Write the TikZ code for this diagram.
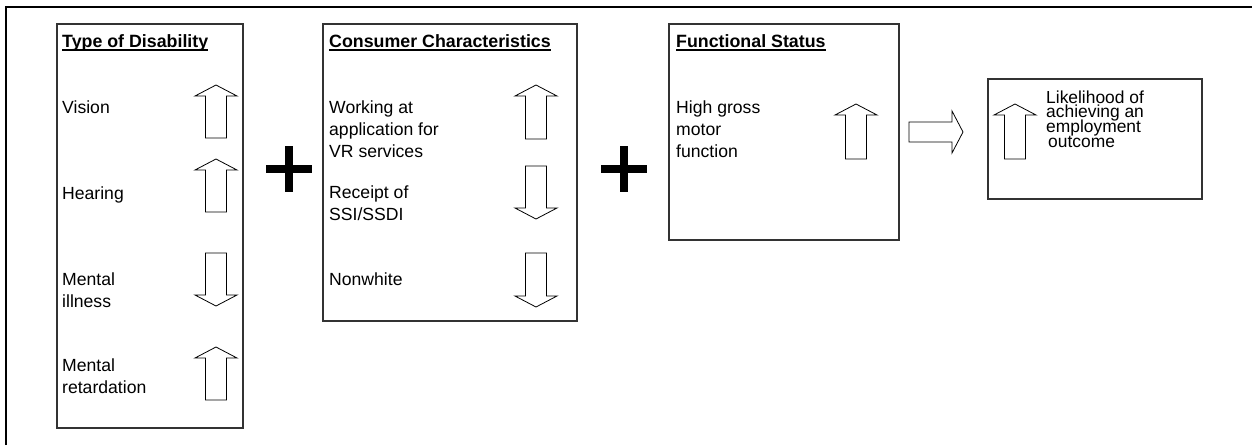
\documentclass[tikz,border=0pt]{standalone}
\usepackage{fontspec}
\setmainfont{Liberation Sans}
\newcommand\tightlead{\lineskiplimit=-20pt\relax}
\begin{document}
\begin{tikzpicture}[x=1pt,y=-1pt,
  frame/.style={draw=black, line width=2pt, line join=miter},
  box/.style={draw=black!80, line width=1.1pt, inner sep=0pt, outer sep=0pt},
  lbl/.style={anchor=base west, inner sep=0pt, align=left, font=\fontsize{17.6}{22}\selectfont},
  lblt/.style={anchor=base west, inner sep=0pt, align=left, font=\fontsize{17.4}{14.8}\selectfont, execute at begin node=\tightlead},
  ttl/.style={anchor=base west, inner sep=0pt, font=\fontsize{17.8}{22}\selectfont\bfseries},
  uline/.style={draw=black, line width=1.5pt},
  blk/.style={draw=black, line width=0.8pt, fill=white, line join=miter},
  plusbar/.style={fill=black},
  pics/uparr/.style={code={\draw[blk] (0,0) -- (21,11) -- (10.5,11) -- (10.5,#1) -- (-10.5,#1) -- (-10.5,11) -- (-21,11) -- cycle;}},
]
\useasboundingbox (0,0) rectangle (1252,445);
% outer frame (top and left only)
\draw[frame] (6,445) -- (6,7) -- (1252,7);

% boxes
\node[box, minimum width=186pt, minimum height=404pt] (b1) at (150,226) {};
\node[box, minimum width=254pt, minimum height=297pt] (b2) at (450,172.5) {};
\node[box, minimum width=230pt, minimum height=216pt] (b3) at (784,132) {};
\node[box, minimum width=214pt, minimum height=120pt] (b4) at (1095,139) {};

% titles
\node[ttl] (t1) at (62,47) {Type of Disability\ };
\node[ttl] (t2) at (329,47) {Consumer Characteristics\ };
\node[ttl] (t3) at (676,47) {Functional Status\ };
\draw[uline] ([yshift=-3pt]t1.base west) -- ([yshift=-3pt]t1.base east);
\draw[uline] ([yshift=-3pt]t2.base west) -- ([yshift=-3pt]t2.base east);
\draw[uline] ([yshift=-3pt]t3.base west) -- ([yshift=-3pt]t3.base east);

% box 1 items (anchor at baseline of last line)
\node[lbl] (v) at (62,113) {Vision};
\node[lbl] (h) at (62,199) {Hearing};
\node[lbl] (mi) at (62,307) {Mental\\illness};
\node[lbl] (mr) at (62,393) {Mental\\retardation};
\pic at (216,85) {uparr=53};
\pic at (216,159) {uparr=53};
\pic[rotate=180] at (216,306) {uparr=53};
\pic at (216,347) {uparr=53};

% box 2 items
\node[lbl] (w) at (329,157) {Working at\\application for\\VR services};
\node[lbl] (r) at (329,220) {Receipt of\\SSI/SSDI};
\node[lbl] (n) at (329,285) {Nonwhite};
\pic at (536,85) {uparr=54};
\pic[rotate=180] at (536,219) {uparr=53};
\pic[rotate=180] at (536,307) {uparr=54};

% box 3 items
\node[lbl] (hg) at (676,157) {High gross\\motor\\function};
\pic at (856,104) {uparr=55};

% box 4 items
\node[lblt] (lk) at (1046,147.4) {Likelihood of\\achieving an\\employment\\\hspace*{2pt}outcome};
\pic at (1015,104) {uparr=55};

% plus signs
\fill[plusbar] (265.5,165) rectangle (311.5,173);
\fill[plusbar] (284.5,146) rectangle (292.5,192);
\fill[plusbar] (600.5,165) rectangle (646.5,173);
\fill[plusbar] (619.5,146) rectangle (627.5,192);

% right block arrow
\draw[blk] (909,122) -- (952,122) -- (952,111) -- (963,132) -- (952,153) -- (952,142) -- (909,142) -- cycle;
\end{tikzpicture}
\end{document}
